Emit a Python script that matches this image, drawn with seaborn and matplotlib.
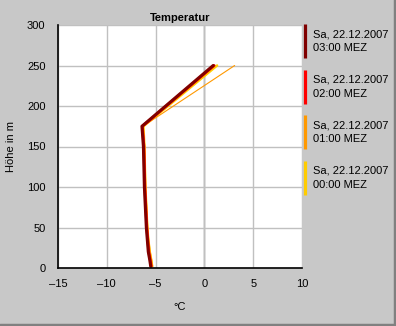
import matplotlib
matplotlib.use("Agg")
import matplotlib.pyplot as plt
import seaborn as sns
import pandas as pd
from matplotlib.lines import Line2D

heights = [2, 10, 20, 35, 50, 75, 100, 125, 150, 175, 250]
t_0000 = [-5.35, -5.45, -5.6, -5.75, -5.85, -5.95, -6.05, -6.1, -6.15, -6.25, 1.3]
t_0100 = [-5.3, -5.4, -5.55, -5.7, -5.8, -5.9, -6.0, -6.05, -6.1, -6.3, 3.1]
t_0200 = [-5.45, -5.55, -5.7, -5.8, -5.9, -6.0, -6.1, -6.15, -6.2, -6.35, 1.0]
t_0300 = [-5.5, -5.6, -5.75, -5.85, -5.95, -6.05, -6.15, -6.2, -6.25, -6.4, 0.9]

labels = ["Sa, 22.12.2007\n00:00 MEZ", "Sa, 22.12.2007\n01:00 MEZ",
          "Sa, 22.12.2007\n02:00 MEZ", "Sa, 22.12.2007\n03:00 MEZ"]
colors = ["#ffcc00", "#ff9900", "#ff0000", "#800000"]
widths = [1.8, 0.8, 2.0, 2.2]
series = [t_0000, t_0100, t_0200, t_0300]

xticks = [-15, -10, -5, 0, 5, 10]
yticks = [0, 50, 100, 150, 200, 250, 300]

sns.set_style("white")
plt.rcParams["font.family"] = ["Liberation Sans", "DejaVu Sans"]
plt.rcParams["text.color"] = "black"
plt.rcParams["xtick.color"] = "black"
plt.rcParams["ytick.color"] = "black"
plt.rcParams["axes.labelcolor"] = "black"

bg = "#c8c8c8"
fig = plt.figure(figsize=(3.96, 3.26), dpi=100, facecolor=bg)
ax = fig.add_axes([58/396, 1-268/326, 244/396, 243/326])
ax.set_facecolor("white")

for temps, col, lw in zip(series, colors, widths):
    df = pd.DataFrame({"t": temps, "h": heights})
    sns.lineplot(data=df, x="t", y="h", orient="y", sort=False, estimator=None,
                 color=col, linewidth=lw, ax=ax, legend=False)

ax.set_xlim(-15, 10)
ax.set_ylim(0, 300)
ax.set_xticks(xticks)
ax.set_yticks(yticks)
ax.set_xticklabels([str(v).replace("-", "\u2013") for v in xticks], fontsize=8)
ax.set_yticklabels([str(v) for v in yticks], fontsize=8)
ax.tick_params(length=0, pad=8)
ax.tick_params(axis="y", pad=9)
ax.grid(True, color="#c0c0c0", linewidth=1)
ax.axvline(0, color="#808080", linewidth=1, zorder=0.5)
for s in ["top", "right"]:
    ax.spines[s].set_visible(False)
for s in ["left", "bottom"]:
    ax.spines[s].set_color("black")
    ax.spines[s].set_linewidth(1.2)
ax.set_axisbelow(True)

ax.set_title("Temperatur", fontsize=8, fontweight="bold", pad=3, color="black")
ax.set_xlabel("°C", fontsize=8, labelpad=9)
ax.set_ylabel("Höhe in m", fontsize=8, labelpad=8)

handles = [Line2D([], [], linestyle="none", marker="|", markersize=24,
                  markeredgewidth=2.3, color=c) for c in colors]
leg = fig.legend(handles[::-1], labels[::-1], loc="upper left",
                 bbox_to_anchor=(297/396, 1-25/326), frameon=False,
                 fontsize=8, handlelength=0.6, handletextpad=0.4,
                 labelspacing=1.97, borderaxespad=0)
for t in leg.get_texts():
    t.set_color("black")
    t.set_linespacing(1.45)

fig.add_artist(Line2D([0, 1], [0.003, 0.003], transform=fig.transFigure,
                      color="#808080", linewidth=2.5))
fig.add_artist(Line2D([0.997, 0.997], [0, 1], transform=fig.transFigure,
                      color="#808080", linewidth=2.5))

fig.savefig("out.png", dpi=100, facecolor=bg)
